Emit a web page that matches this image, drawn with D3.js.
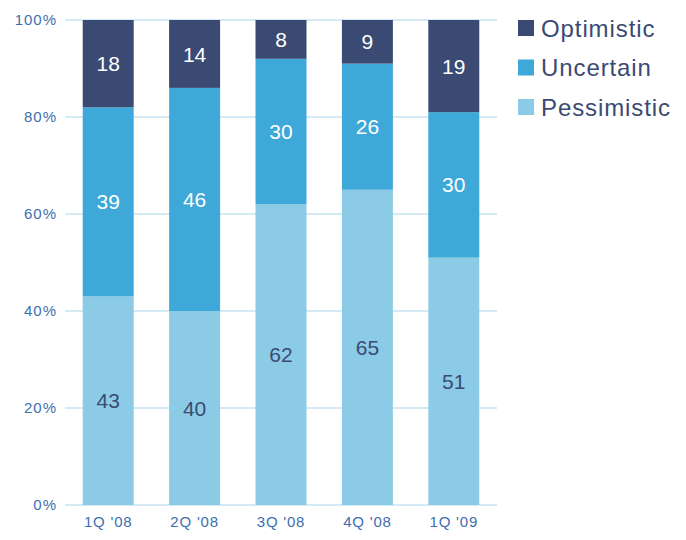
<!DOCTYPE html>
<html>
<head>
  <meta charset="utf-8">
  <title>Outlook</title>
  <script src="https://d3js.org/d3.v7.min.js"></script>
  <style>
    body { margin: 0; background: #fff; }
    text { font-family: "Liberation Sans", Arial, sans-serif; }
  </style>
</head>
<body>
  <script>
    // chart data
    const quarters = ["1Q '08", "2Q '08", "3Q '08", "4Q '08", "1Q '09"];
    const pessimistic = [43, 40, 62, 65, 51];
    const uncertain = [39, 46, 30, 26, 30];
    const optimistic = [18, 14, 8, 9, 19];
    const seriesNames = ["Pessimistic", "Uncertain", "Optimistic"];
    const yTicks = [0, 20, 40, 60, 80, 100];

    const width = 686, height = 540;
    const colors = { Pessimistic: "#8ccbe6", Uncertain: "#3ea8d8", Optimistic: "#3a4a73" };
    const labelColors = { Pessimistic: "#3a4a73", Uncertain: "#ffffff", Optimistic: "#ffffff" };

    const svg = d3.select("body").append("svg")
      .attr("width", width)
      .attr("height", height);

    const x = d3.scaleBand()
      .domain(quarters)
      .range([65, 497])
      .paddingInner(0.41)
      .paddingOuter(0.205);

    const y = d3.scaleLinear()
      .domain([0, 100])
      .range([505, 20]);

    // build rows for the stack
    const rows = quarters.map((q, i) => ({
      quarter: q,
      Pessimistic: pessimistic[i],
      Uncertain: uncertain[i],
      Optimistic: optimistic[i]
    }));
    const stacked = d3.stack().keys(seriesNames)(rows);

    // gridlines
    svg.append("g")
      .selectAll("line")
      .data(yTicks)
      .join("line")
      .attr("x1", 65)
      .attr("x2", 497)
      .attr("y1", d => y(d))
      .attr("y2", d => y(d))
      .attr("stroke", "#d4ebf6")
      .attr("stroke-width", 2);

    // y axis labels
    const yAxis = svg.append("g")
      .attr("transform", "translate(65,0)")
      .call(d3.axisLeft(y).tickValues(yTicks).tickFormat(d => d + "%").tickSize(0).tickPadding(8));
    yAxis.select(".domain").remove();
    yAxis.selectAll("text")
      .attr("fill", "#3d6fae")
      .attr("font-size", 15)
      .style("letter-spacing", "1px");

    // bars
    const layer = svg.append("g")
      .selectAll("g")
      .data(stacked)
      .join("g")
      .attr("fill", d => colors[d.key]);

    layer.selectAll("rect")
      .data(d => d)
      .join("rect")
      .attr("x", d => x(d.data.quarter))
      .attr("width", x.bandwidth())
      .attr("y", d => y(d[1]))
      .attr("height", d => y(d[0]) - y(d[1]));

    // value labels
    svg.append("g")
      .selectAll("g")
      .data(stacked)
      .join("g")
      .attr("fill", d => labelColors[d.key])
      .selectAll("text")
      .data(d => d)
      .join("text")
      .attr("x", d => x(d.data.quarter) + x.bandwidth() / 2)
      .attr("y", d => (y(d[0]) + y(d[1])) / 2)
      .attr("dy", "0.36em")
      .attr("text-anchor", "middle")
      .attr("font-size", 21)
      .text(d => d[1] - d[0]);

    // x axis labels
    const xAxis = svg.append("g")
      .attr("transform", "translate(0,505)")
      .call(d3.axisBottom(x).tickSize(0).tickPadding(11));
    xAxis.select(".domain").remove();
    xAxis.selectAll("text")
      .attr("fill", "#3d6fae")
      .attr("font-size", 15)
      .style("letter-spacing", "0.8px");

    // legend
    const legend = svg.append("g")
      .selectAll("g")
      .data(seriesNames.slice().reverse())
      .join("g")
      .attr("transform", (d, i) => `translate(518,${20 + i * 39.5})`);

    legend.append("rect")
      .attr("width", 16)
      .attr("height", 16)
      .attr("fill", d => colors[d]);

    legend.append("text")
      .attr("x", 23)
      .attr("y", 8)
      .attr("dy", "0.36em")
      .attr("font-size", 24)
      .attr("fill", "#3a4a73")
      .style("letter-spacing", "0.9px")
      .text(d => d);
  </script>
</body>
</html>
